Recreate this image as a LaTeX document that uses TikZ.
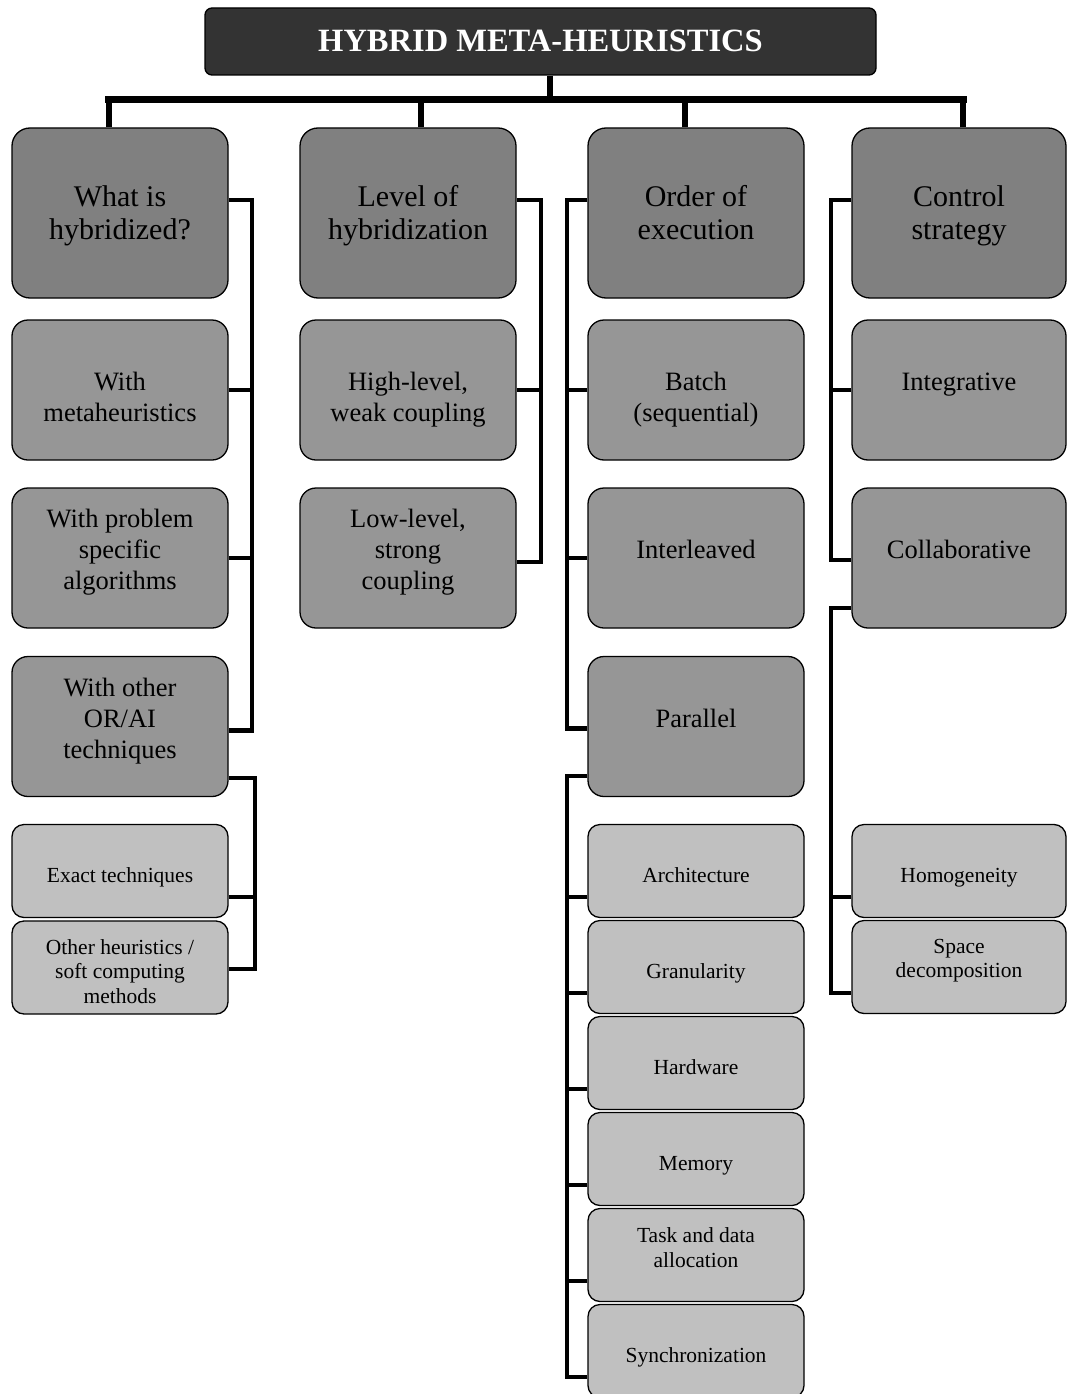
\documentclass[tikz,border=0pt]{standalone}
\usepackage{fontspec}
\setmainfont{Liberation Serif}
\usetikzlibrary{calc}
\definecolor{titlec}{HTML}{333333}
\definecolor{hdrc}{HTML}{808080}
\definecolor{subc}{HTML}{969696}
\definecolor{leafc}{HTML}{C0C0C0}
\newcommand\mytxt[4]{\node[#1] (#2t) at ($(#2)+(0,#3)$) {#4};}
\begin{document}
\begin{tikzpicture}[x=1pt,y=-1pt,
  box/.style={draw=black, line width=1.3pt, inner sep=0pt},
  titlebox/.style={box, fill=titlec, rounded corners=7pt, minimum width=671pt, minimum height=67pt},
  hdr/.style={box, fill=hdrc, rounded corners=18pt, minimum width=216pt, minimum height=170pt},
  sub/.style={box, fill=subc, rounded corners=16pt, minimum width=216pt, minimum height=140pt},
  leaf/.style={box, fill=leafc, rounded corners=12pt, minimum width=216pt, minimum height=93pt},
  txt/.style={align=center, inner sep=0pt, text=black},
  titletxt/.style={txt, text=white, font=\fontsize{32.5}{37}\selectfont\bfseries},
  hdrtxt/.style={txt, font=\fontsize{30}{33.5}\selectfont},
  subtxt/.style={txt, font=\fontsize{26.5}{31}\selectfont},
  leaftxt/.style={txt, font=\fontsize{21.5}{24.3}\selectfont},
  busline/.style={line width=7pt},
  dropline/.style={line width=6pt},
  brk/.style={line width=4.5pt},
  brk2/.style={line width=4pt}
]
\fill[white] (0,0) rectangle (1066,1394);
\useasboundingbox (0,0) rectangle (1066,1394);

% title
\node[titlebox] (t) at (540.5,41.5) {};
\mytxt{titletxt}{t}{2.8}{\strut HYBRID META-HEURISTICS\strut}

% headers
\node[hdr] (h1) at (120,213) {};
\node[hdr] (h2) at (408,213) {};
\node[hdr] (h3) at (696,213) {};
\node[hdr, minimum width=214pt] (h4) at (959,213) {};
\mytxt{hdrtxt}{h1}{3.5}{\strut What is\\hybridized?\strut}
\mytxt{hdrtxt}{h2}{3.5}{\strut Level of\\hybridization\strut}
\mytxt{hdrtxt}{h3}{3.5}{\strut Order of\\execution\strut}
\mytxt{hdrtxt}{h4}{3.5}{\strut Control\\strategy\strut}

% column 1
\node[sub] (a1) at (120,390) {};
\node[sub] (a2) at (120,558) {};
\node[sub] (a3) at (120,726.5) {};
\node[leaf] (b1) at (120,871) {};
\node[leaf] (b2) at (120,967.5) {};
\mytxt{subtxt}{a1}{9.5}{\strut With\\metaheuristics\strut}
\mytxt{subtxt}{a2}{-5.5}{\strut With problem\\specific\\algorithms\strut}
\mytxt{subtxt}{a3}{-5.5}{\strut With other\\OR/AI\\techniques\strut}
\mytxt{leaftxt}{b1}{6.2}{\strut Exact techniques\strut}
\mytxt{leaftxt}{b2}{6.5}{\strut Other heuristics /\\soft computing\\methods\strut}

% column 2
\node[sub] (c1) at (408,390) {};
\node[sub] (c2) at (408,558) {};
\mytxt{subtxt}{c1}{9.5}{\strut High-level,\\weak coupling\strut}
\mytxt{subtxt}{c2}{-5.5}{\strut Low-level,\\strong\\coupling\strut}

% column 3
\node[sub] (d1) at (696,390) {};
\node[sub] (d2) at (696,558) {};
\node[sub] (d3) at (696,726.5) {};
\node[leaf] (e1) at (696,871) {};
\node[leaf] (e2) at (696,967) {};
\node[leaf] (e3) at (696,1063) {};
\node[leaf] (e4) at (696,1159) {};
\node[leaf] (e5) at (696,1255) {};
\node[leaf] (e6) at (696,1351) {};
\mytxt{subtxt}{d1}{9.5}{\strut Batch\\(sequential)\strut}
\mytxt{subtxt}{d2}{-5.5}{\strut Interleaved\strut}
\mytxt{subtxt}{d3}{-5.5}{\strut Parallel\strut}
\mytxt{leaftxt}{e1}{6.2}{\strut Architecture\strut}
\mytxt{leaftxt}{e2}{6.2}{\strut Granularity\strut}
\mytxt{leaftxt}{e3}{6.2}{\strut Hardware\strut}
\mytxt{leaftxt}{e4}{6.2}{\strut Memory\strut}
\mytxt{leaftxt}{e5}{-5}{\strut Task and data\\allocation\strut}
\mytxt{leaftxt}{e6}{6.2}{\strut Synchronization\strut}

% column 4
\node[sub, minimum width=214pt] (f1) at (959,390) {};
\node[sub, minimum width=214pt] (f2) at (959,558) {};
\node[leaf, minimum width=214pt] (g1) at (959,871) {};
\node[leaf, minimum width=214pt] (g2) at (959,967) {};
\mytxt{subtxt}{f1}{-5.5}{\strut Integrative\strut}
\mytxt{subtxt}{f2}{-5.5}{\strut Collaborative\strut}
\mytxt{leaftxt}{g1}{6.2}{\strut Homogeneity\strut}
\mytxt{leaftxt}{g2}{-6.5}{\strut Space\\decomposition\strut}

% top bus
\coordinate (busL) at (105,100);
\coordinate (busR) at (967,100);
\draw[busline] (busL) -- (busR);
\draw[dropline] ($(t.south)+(9,0)$) -- ($(t.south)+(9,25)$);
\draw[dropline] ($(h1.north)+(-11,0)$) -- ($(h1.north)+(-11,-28)$);
\draw[dropline] ($(h2.north)+(13,0)$) -- ($(h2.north)+(13,-28)$);
\draw[dropline] ($(h3.north)+(-11,0)$) -- ($(h3.north)+(-11,-28)$);
\draw[dropline] ($(h4.north)+(4,0)$) -- ($(h4.north)+(4,-28)$);

% spines
\coordinate (sp1) at (252,0);
\coordinate (sq1) at (255,0);
\coordinate (sp2) at (541,0);
\coordinate (sp3) at (567,0);
\coordinate (sp4) at (831,0);

% column 1 brackets
\draw[brk] ($(h1.east)+(0,-13)$) -| ($(sp1|-a3.east)+(0,4)$) -- ($(a3.east)+(0,4)$);
\draw[brk] (a1.east) -- (sp1|-a1.east);
\draw[brk] (a2.east) -- (sp1|-a2.east);
\draw[brk2] ($(a3.east)+(0,51)$) -| ($(sq1|-b2.east)+(0,1)$) -- ($(b2.east)+(0,1)$);
\draw[brk2] ($(b1.east)+(0,26)$) -- ($(sq1|-b1.east)+(0,26)$);

% column 2 brackets
\draw[brk] ($(h2.east)+(0,-13)$) -| ($(sp2|-c2.east)+(0,4)$) -- ($(c2.east)+(0,4)$);
\draw[brk] (c1.east) -- (sp2|-c1.east);

% column 3 brackets
\draw[brk] ($(h3.west)+(0,-13)$) -| ($(sp3|-d3.west)+(0,2)$) -- ($(d3.west)+(0,2)$);
\draw[brk] (d1.west) -- (sp3|-d1.west);
\draw[brk] (d2.west) -- (sp3|-d2.west);
\draw[brk2] ($(d3.west)+(0,49)$) -| ($(sp3|-e6.west)+(0,26)$) -- ($(e6.west)+(0,26)$);
\foreach \n in {e1,e2,e3,e4,e5}
  \draw[brk2] ($(\n.west)+(0,26)$) -- ($(sp3|-\n.west)+(0,26)$);

% column 4 brackets
\draw[brk] ($(h4.west)+(0,-13)$) -| ($(sp4|-f2.west)+(0,2)$) -- ($(f2.west)+(0,2)$);
\draw[brk] (f1.west) -- (sp4|-f1.west);
\draw[brk2] ($(f2.west)+(0,50)$) -| ($(sp4|-g2.west)+(0,26)$) -- ($(g2.west)+(0,26)$);
\draw[brk2] ($(g1.west)+(0,26)$) -- ($(sp4|-g1.west)+(0,26)$);
\end{tikzpicture}
\end{document}
